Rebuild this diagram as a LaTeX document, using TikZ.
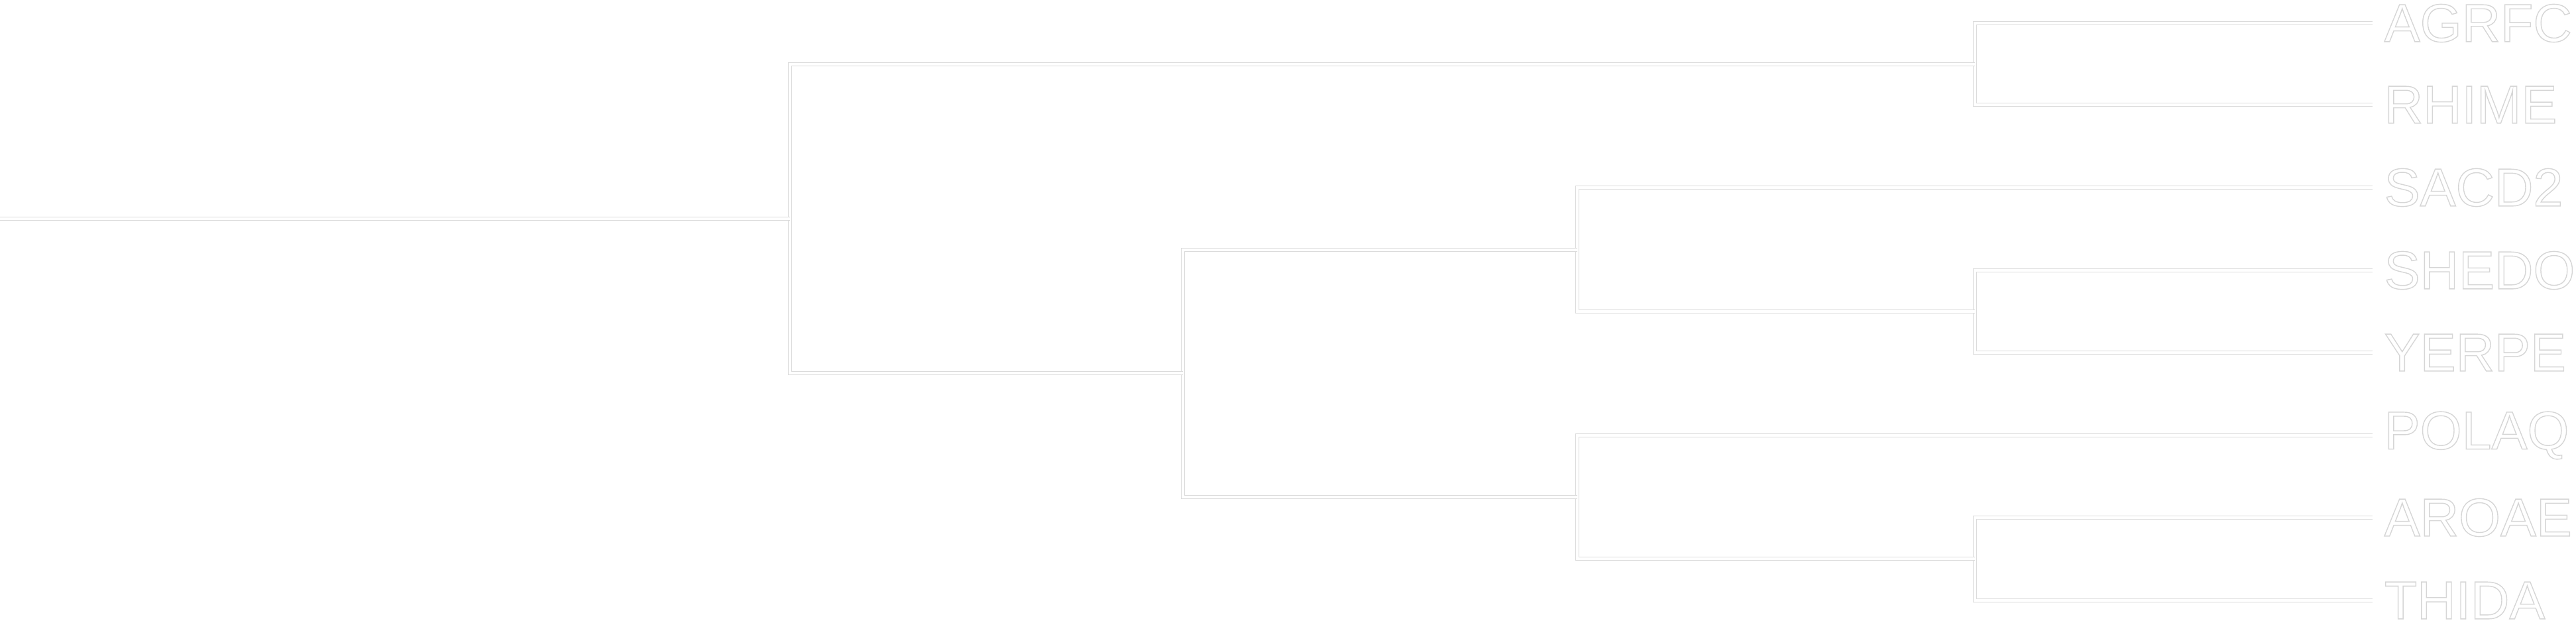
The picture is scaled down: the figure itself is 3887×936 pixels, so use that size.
\documentclass[tikz,border=0pt]{standalone}
\usepackage{fontspec}
\setmainfont{Liberation Sans}
\tikzset{br/.style={draw=black!14,double=white,line width=0.3pt,double distance=1.1pt},
lf/.style={anchor=west,inner sep=0pt,font=\fontsize{23}{23}\selectfont}}
\newcommand{\outl}[1]{\special{pdf:code 0.84 G 2 Tr 0.4 w}#1\special{pdf:code 0 Tr}}
\begin{document}
\begin{tikzpicture}[x=0.01cm,y=-0.01cm]
\useasboundingbox (0,0) rectangle (3887,936);
\foreach \n/\y in {AGRFC/35,RHIME/158,SACD2/283,SHEDO/408,YERPE/532,POLAQ/657,AROAE/781,THIDA/906}{
 \coordinate (\n) at (3580,\y);
 \node[lf,text=white] (t\n) at (3597,\y) {\outl{\n}};
}
\coordinate (n1) at (2980,97);
\coordinate (n2) at (2980,470);
\coordinate (n3) at (2380,377);
\coordinate (n4) at (2980,843);
\coordinate (n5) at (2380,750);
\coordinate (n6) at (1785,563);
\coordinate (n7) at (1192,330);
\coordinate (r) at (0,330);
\draw[br] (AGRFC) -| (n1) |- (RHIME);
\draw[br] (SHEDO) -| (n2) |- (YERPE);
\draw[br] (SACD2) -| (n3) |- (n2);
\draw[br] (AROAE) -| (n4) |- (THIDA);
\draw[br] (POLAQ) -| (n5) |- (n4);
\draw[br] (n3) -| (n6) |- (n5);
\draw[br] (n1) -| (n7) |- (n6);
\draw[br] (r) -- (n7);
\end{tikzpicture}
\end{document}
